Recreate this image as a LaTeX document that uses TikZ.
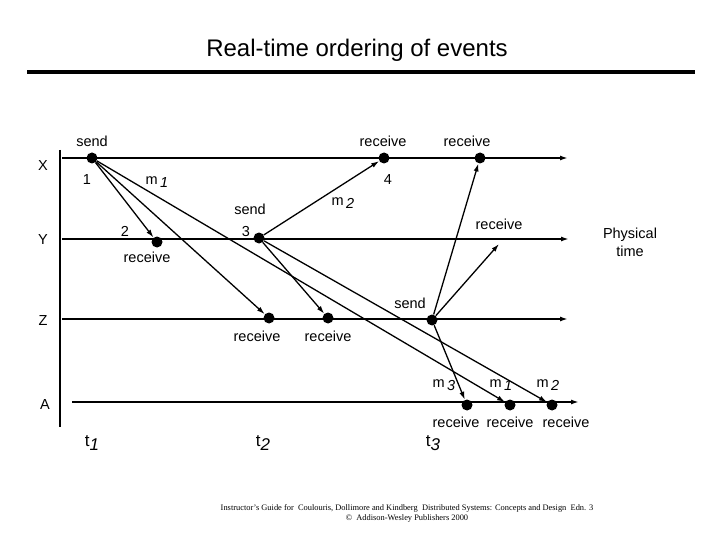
\documentclass[tikz,border=0pt]{standalone}
\usepackage{fontspec}
\setmainfont{Liberation Sans}
\newfontfamily\footfont{Liberation Serif}
\usetikzlibrary{arrows.meta}
\begin{document}
\begin{tikzpicture}[x=1pt,y=-1pt,
  dot/.style={circle,fill=black,inner sep=0pt,minimum size=11pt},
  proc/.style={line width=1.8pt,-{Latex[length=8pt,width=5pt]}},
  msg/.style={line width=1.3pt,-{Latex[length=8pt,width=5pt]}},
  lbl/.style={font=\fontsize{14.5}{16}\selectfont,inner sep=0pt},
  tl/.style={font=\fontsize{17}{19}\selectfont,inner sep=0pt}]
\useasboundingbox (0,0) rectangle (720,540);
% title
\node[font=\fontsize{24}{28}\selectfont,inner sep=0pt] (title) at (357,50) {Real-time ordering of events};
\coordinate (tl1) at (27,72); \coordinate (tl2) at (695,72);
\draw[line width=3.5pt] (tl1) -- (tl2);
% axis
\coordinate (ax1) at (60,150); \coordinate (ax2) at (60,427);
\draw[line width=2.2pt] (ax1) -- (ax2);
% process lines
\coordinate (x0) at (62,158); \coordinate (x1) at (568,158);
\coordinate (y0) at (62,239); \coordinate (y1) at (569,239);
\coordinate (z0) at (62,319); \coordinate (z1) at (568,319);
\coordinate (a0) at (72,402); \coordinate (a1) at (579,402);
\draw[proc] (x0) -- (x1);
\draw[proc] (y0) -- (y1);
\draw[proc] (z0) -- (z1);
\draw[proc] (a0) -- (a1);
\node[lbl] (lX) at (43,166) {X};
\node[lbl] (lY) at (43,240) {Y};
\node[lbl] (lZ) at (43,321) {Z};
\node[lbl] (lA) at (45,405) {A};
\node[lbl,align=center] (phys) at (630,242) {Physical\\[2pt]time};
% events
\node[dot] (xs) at (92,158) {};
\node[dot] (xr4) at (384,158) {};
\node[dot] (xr5) at (480,158) {};
\node[dot] (yr2) at (157,242) {};
\node[dot] (ys3) at (259,238) {};
\coordinate (yr6) at (499,244);
\node[dot] (zr1) at (269,318) {};
\node[dot] (zr2) at (328,318) {};
\node[dot] (zs) at (432,320) {};
\node[dot] (ar1) at (467,405) {};
\node[dot] (ar2) at (510,405) {};
\node[dot] (ar3) at (552,405) {};
% event labels
\node[lbl] (t_xs) at (92,141) {send};
\node[lbl] (n1) at (87,180) {1};
\node[lbl] (t_xr4) at (383,141) {receive};
\node[lbl] (n4) at (388,180) {4};
\node[lbl] (t_xr5) at (467,141) {receive};
\node[lbl] (n2) at (125,231) {2};
\node[lbl] (t_yr2) at (147,257) {receive};
\node[lbl] (t_ys3) at (250,209) {send};
\node[lbl] (n3) at (246,232) {3};
\node[lbl] (t_yr6) at (499,224) {receive};
\node[lbl] (t_zr1) at (257,336) {receive};
\node[lbl] (t_zr2) at (328,336) {receive};
\node[lbl] (t_zs) at (410,303) {send};
\node[lbl] (t_ar1) at (456,422) {receive};
\node[lbl] (t_ar2) at (510,422) {receive};
\node[lbl] (t_ar3) at (566,422) {receive};
% message labels
\node[lbl] (m1a) at (157,182) {m\,\raisebox{-0.45ex}{\itshape 1}};
\node[lbl] (m2a) at (343,203) {m\,\raisebox{-0.45ex}{\itshape 2}};
\node[lbl] (m3b) at (444,385) {m\,\raisebox{-0.45ex}{\itshape 3}};
\node[lbl] (m1b) at (501,385) {m\,\raisebox{-0.45ex}{\itshape 1}};
\node[lbl] (m2b) at (548,385) {m\,\raisebox{-0.45ex}{\itshape 2}};
% times
\node[tl] (t1) at (92,443) {t\raisebox{-0.45ex}{\itshape 1}};
\node[tl] (t2) at (263,443) {t\raisebox{-0.45ex}{\itshape 2}};
\node[tl] (t3) at (433,443) {t\raisebox{-0.45ex}{\itshape 3}};
% messages
\draw[msg] (xs) -- (yr2);
\draw[msg] (xs) -- (zr1);
\draw[msg] (xs) -- (ar2);
\draw[msg] (ys3) -- (xr4);
\draw[msg] (ys3) -- (zr2);
\draw[msg] (ys3) -- (ar3);
\draw[msg] (zs) -- (xr5);
\draw[msg] (zs) -- (yr6);
\draw[msg] (zs) -- (ar1);
% footer
\node[font=\footfont\fontsize{8.4}{10}\selectfont,align=center,inner sep=0pt] (foot) at (407,513)
  {Instructor’s Guide for\ \ Coulouris, Dollimore and Kindberg\ \ Distributed Systems: Concepts and Design\ \ Edn. 3\\
   ©\ \ Addison-Wesley Publishers 2000};
\end{tikzpicture}
\end{document}
